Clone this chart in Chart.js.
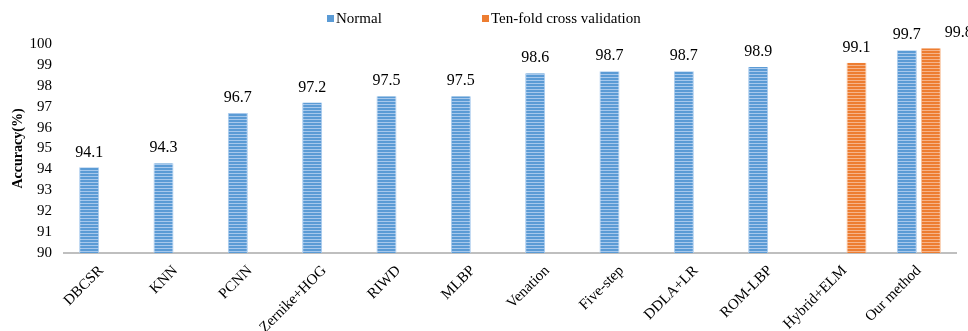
<!DOCTYPE html>
<html>
<head>
<meta charset="utf-8">
<script src="https://cdn.jsdelivr.net/npm/chart.js@4"></script>
<style>
  html, body { margin: 0; padding: 0; background: #ffffff; }
  #wrap { width: 968px; height: 331px; }
</style>
</head>
<body>
<div id="wrap"><canvas id="c" width="968" height="331"></canvas></div>
<script>
// Methods compared and their recognition accuracy (%)
const categories = ['DBCSR', 'KNN', 'PCNN', 'Zernike+HOG', 'RIWD', 'MLBP', 'Venation',
  'Five-step', 'DDLA+LR', 'ROM-LBP', 'Hybrid+ELM', 'Our method'];
const normalValues = [94.1, 94.3, 96.7, 97.2, 97.5, 97.5, 98.6, 98.7, 98.7, 98.9, null, 99.7];
const tenFoldValues = [null, null, null, null, null, null, null, null, null, null, 99.1, 99.8];
const seriesNames = ['Normal', 'Ten-fold cross validation'];
const yTicks = [90, 91, 92, 93, 94, 95, 96, 97, 98, 99, 100];

const FONT = '"Liberation Serif", "Times New Roman", serif';

// Horizontal striped fill used for the bars
function stripes(base, light) {
  const p = document.createElement('canvas');
  p.width = 4; p.height = 3;
  const g = p.getContext('2d');
  g.fillStyle = base; g.fillRect(0, 0, 4, 3);
  g.fillStyle = light; g.fillRect(0, 2, 4, 1);
  return g.createPattern(p, 'repeat');
}
const ctx = document.getElementById('c').getContext('2d');
const blueFill = stripes('#5B9BD5', '#A7C8EC');
const orangeFill = stripes('#ED7D31', '#F6B48A');

// Value labels above each bar (the last ten-fold label sits slightly to the right)
const valueLabels = {
  id: 'valueLabels',
  afterDatasetsDraw(chart) {
    const c = chart.ctx;
    c.save();
    c.font = '16px ' + FONT;
    c.fillStyle = '#000';
    c.textAlign = 'center';
    c.textBaseline = 'middle';
    chart.data.datasets.forEach((ds, di) => {
      const meta = chart.getDatasetMeta(di);
      meta.data.forEach((bar, i) => {
        const v = ds.data[i];
        if (v === null || v === undefined) return;
        const dx = (di === 1 && i === categories.length - 1) ? 28 : 0;
        c.fillText(v.toFixed(1), bar.x + dx, bar.y - 15);
      });
    });
    c.restore();
  }
};

// Legend row at the top
const topLegend = {
  id: 'topLegend',
  afterDraw(chart) {
    const c = chart.ctx;
    c.save();
    c.font = '15px ' + FONT;
    c.fillStyle = '#000';
    c.textBaseline = 'middle';
    const items = [
      { x: 327, color: '#5B9BD5', text: seriesNames[0] },
      { x: 482, color: '#ED7D31', text: seriesNames[1] }
    ];
    items.forEach(it => {
      c.fillStyle = it.color;
      c.fillRect(it.x, 15, 7, 7);
      c.fillStyle = '#000';
      c.fillText(it.text, it.x + 9, 19);
    });
    c.restore();
  }
};

new Chart(ctx, {
  type: 'bar',
  data: {
    labels: categories,
    datasets: [
      {
        label: seriesNames[0],
        data: normalValues,
        backgroundColor: blueFill,
        borderColor: '#A9CBEE',
        borderWidth: { left: 1, right: 1, top: 0, bottom: 0 },
        borderSkipped: false,
        barPercentage: 0.833,
        categoryPercentage: 0.646
      },
      {
        label: seriesNames[1],
        data: tenFoldValues,
        backgroundColor: orangeFill,
        borderColor: '#F8C09A',
        borderWidth: { left: 1, right: 1, top: 0, bottom: 0 },
        borderSkipped: false,
        barPercentage: 0.833,
        categoryPercentage: 0.646
      }
    ]
  },
  options: {
    responsive: false,
    animation: false,
    devicePixelRatio: 1,
    layout: { padding: { top: 44, right: 12, left: 0, bottom: 0 } },
    plugins: {
      legend: { display: false },
      tooltip: { enabled: false }
    },
    scales: {
      x: {
        grid: { display: false, drawTicks: false },
        border: { display: true, color: '#BFBFBF', width: 2 },
        ticks: {
          color: '#000',
          font: { family: FONT, size: 15 },
          maxRotation: 45,
          minRotation: 45,
          autoSkip: false,
          padding: 9
        },
        afterFit(scale) { scale.height = 78; }
      },
      y: {
        min: 90,
        max: 100,
        grid: { display: false, drawTicks: false },
        border: { display: false },
        afterBuildTicks(scale) { scale.ticks = yTicks.map(v => ({ value: v })); },
        ticks: {
          color: '#000',
          font: { family: FONT, size: 15 },
          padding: 12,
          autoSkip: false
        },
        title: {
          display: true,
          text: 'Accuracy(%)',
          color: '#000',
          font: { family: FONT, size: 14, weight: 'bold' },
          padding: { top: 10, bottom: 0 }
        },
        afterFit(scale) { scale.width = 64; }
      }
    }
  },
  plugins: [valueLabels, topLegend]
});
</script>
</body>
</html>
